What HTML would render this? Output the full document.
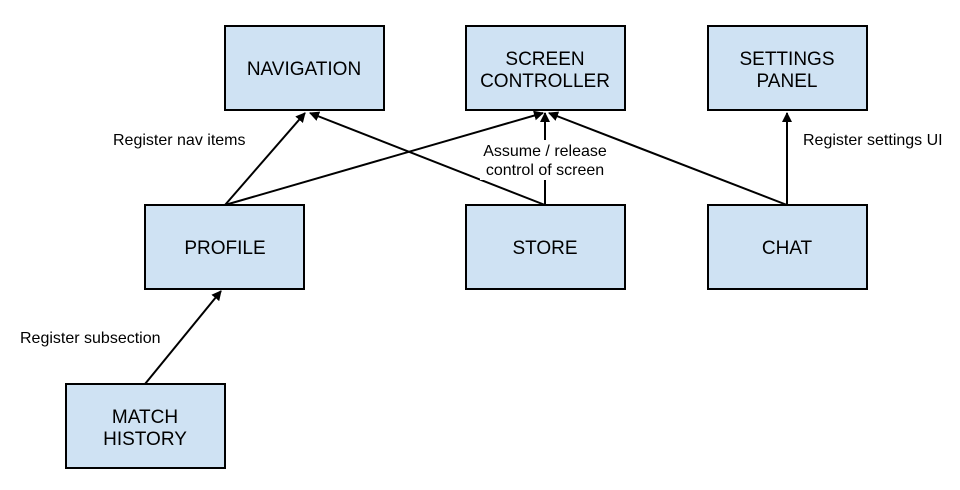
<!DOCTYPE html>
<html><head><style>
body{margin:0;background:#fff;}
svg{display:block;font-family:"Liberation Sans",Arial,sans-serif;}
.b{fill:#cfe2f3;stroke:#000;stroke-width:2;}
.t{font-size:19px;text-anchor:middle;fill:#000;}
.l{font-size:16px;fill:#000;}
line{stroke:#000;stroke-width:2;}
</style></head><body>
<svg width="960" height="490" viewBox="0 0 960 490">
<defs><marker id="a" markerWidth="10" markerHeight="10" refX="9" refY="5" orient="auto" markerUnits="userSpaceOnUse"><path d="M0,0 L10,5 L0,10 z" fill="#000"/></marker></defs>
<line x1="225" y1="205" x2="305" y2="113" marker-end="url(#a)"/>
<line x1="225" y1="205" x2="543" y2="113" marker-end="url(#a)"/>
<line x1="545" y1="205" x2="310" y2="113" marker-end="url(#a)"/>
<line x1="545" y1="205" x2="545" y2="113" marker-end="url(#a)"/>
<line x1="787" y1="205" x2="549" y2="113" marker-end="url(#a)"/>
<line x1="787" y1="205" x2="787" y2="113" marker-end="url(#a)"/>
<line x1="145" y1="384" x2="221" y2="291" marker-end="url(#a)"/>
<rect x="480" y="140" width="130" height="40" fill="#fff"/>
<rect class="b" x="225" y="26" width="159" height="84"/>
<rect class="b" x="466" y="26" width="159" height="84"/>
<rect class="b" x="708" y="26" width="159" height="84"/>
<rect class="b" x="145" y="205" width="159" height="84"/>
<rect class="b" x="466" y="205" width="159" height="84"/>
<rect class="b" x="708" y="205" width="159" height="84"/>
<rect class="b" x="66" y="384" width="159" height="84"/>
<text class="t" x="304" y="75">NAVIGATION</text>
<text class="t" x="545" y="65">SCREEN</text>
<text class="t" x="545" y="87">CONTROLLER</text>
<text class="t" x="787" y="65">SETTINGS</text>
<text class="t" x="787" y="87">PANEL</text>
<text class="t" x="225" y="254">PROFILE</text>
<text class="t" x="545" y="254">STORE</text>
<text class="t" x="787" y="254">CHAT</text>
<text class="t" x="145" y="423">MATCH</text>
<text class="t" x="145" y="445">HISTORY</text>
<text class="l" x="113" y="145">Register nav items</text>
<text class="l" x="545" y="156" text-anchor="middle">Assume / release</text>
<text class="l" x="545" y="175" text-anchor="middle">control of screen</text>
<text class="l" x="803" y="145">Register settings UI</text>
<text class="l" x="20" y="343">Register subsection</text>
</svg>
</body></html>
